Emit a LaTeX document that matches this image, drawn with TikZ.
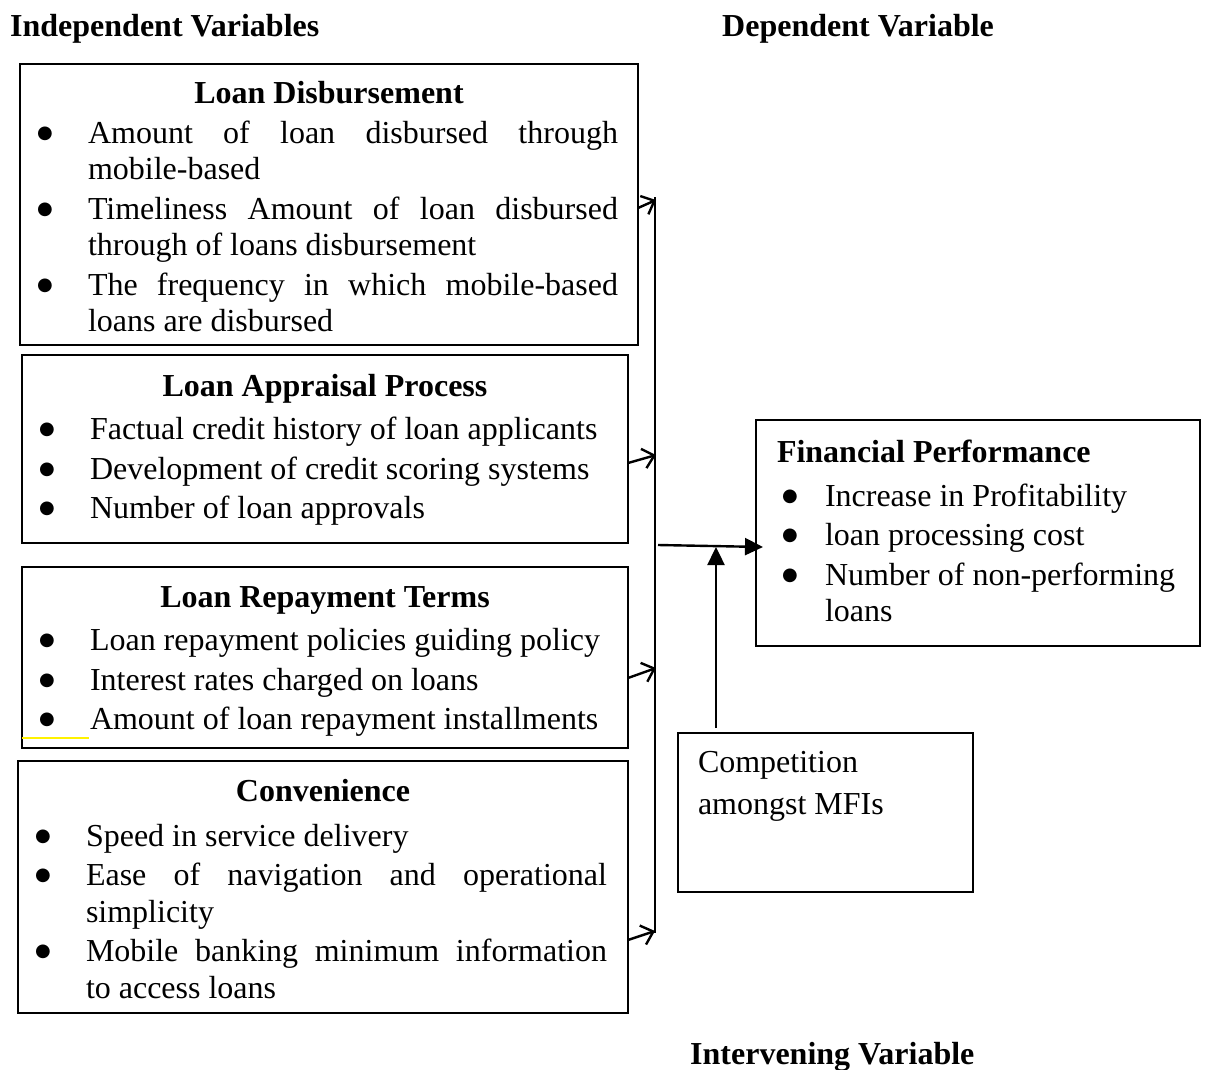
\documentclass[tikz,border=0pt]{standalone}
\usepackage{fontspec}
\setmainfont{Liberation Serif}
\newfontfamily\symfont{DejaVu Sans}
\usetikzlibrary{arrows.meta,calc}
\newcommand{\blt}{\raisebox{5pt}{\fontsize{18}{18}\symfont ●}}
% #1 bullet centre offset, #2 text indent, #3 text
\newcommand{\itm}[3]{\par\noindent\hangindent=#2\hangafter=1\makebox[#2][l]{\hspace{#1}\makebox[0pt][c]{\blt}}#3}
\newcommand{\boxsetup}{\fontsize{32}{36.5}\selectfont\setlength{\parskip}{3pt}\setlength{\parindent}{0pt}%
  \tolerance=10000\hbadness=10000\hyphenpenalty=10000\exhyphenpenalty=10000}
\tikzset{
  x=1pt, y=-1pt,
  frame/.style={draw=black, line width=1.2pt, rectangle, inner sep=0pt, outer sep=0pt, anchor=north west},
  content/.style={anchor=base west, inner sep=0pt, outer sep=0pt},
  heading/.style={anchor=base west, inner sep=0pt, font=\fontsize{32}{36}\selectfont\bfseries},
  openarr/.style={line width=2.4pt, -{Straight Barb[length=11pt,width=20pt,line width=2.4pt]}},
  solidarr/.style={line width=2.4pt, -{Triangle[length=18pt,width=17pt]}},
  conn/.style={line width=2.4pt}
}
\begin{document}
\begin{tikzpicture}
\useasboundingbox (0,0) rectangle (1205,1070);

% headings
\node[heading] (hind) at (10,37) {Independent Variables};
\node[heading] (hdep) at (722,37) {Dependent Variable};
\node[heading] (hint) at (690,1064) {Intervening Variable};

% frames
\node[frame, minimum width=618pt, minimum height=281pt] (b1) at (20,64) {};
\node[frame, minimum width=606pt, minimum height=188pt] (b2) at (22,355) {};
\node[frame, minimum width=606pt, minimum height=181pt] (b3) at (22,567) {};
\node[frame, minimum width=610pt, minimum height=252pt] (b4) at (18,761) {};
\node[frame, minimum width=444pt, minimum height=226pt] (fin) at (756,420) {};
\node[frame, minimum width=295pt, minimum height=159pt] (comp) at (678,733) {};

% contents
\node[content] (t1) at (20,104) {\begin{minipage}[t]{618pt}\boxsetup
{\centering\textbf{Loan Disbursement}\par}
\rightskip=20pt
\itm{25pt}{68pt}{Amount of loan disbursed through\linebreak mobile-based}
\itm{25pt}{68pt}{Timeliness Amount of loan disbursed\linebreak through of loans disbursement}
\itm{25pt}{68pt}{The frequency in which mobile-based\linebreak loans are disbursed}
\end{minipage}};

\node[content] (t2) at (22,396) {\begin{minipage}[t]{606pt}\boxsetup
{\centering\textbf{Loan Appraisal Process}\par}
\vspace{4pt}\rightskip=20pt plus 1fil
\itm{25pt}{68pt}{Factual credit history of loan applicants}
\itm{25pt}{68pt}{Development of credit scoring systems}
\itm{25pt}{68pt}{Number of loan approvals}
\end{minipage}};

\node[content] (t3) at (22,607) {\begin{minipage}[t]{606pt}\boxsetup
{\centering\textbf{Loan Repayment Terms}\par}
\vspace{4pt}\rightskip=0pt plus 1fil
\itm{25pt}{68pt}{Loan repayment policies guiding policy}
\itm{25pt}{68pt}{Interest rates charged on loans}
\itm{25pt}{68pt}{Amount of loan repayment installments}
\end{minipage}};

\node[content] (t4) at (18,801) {\begin{minipage}[t]{610pt}\boxsetup
{\centering\textbf{Convenience}\par}
\vspace{5.5pt}\rightskip=21pt
\itm{25pt}{68pt}{Speed in service delivery}
\itm{25pt}{68pt}{Ease of navigation and operational\linebreak simplicity}
\itm{25pt}{68pt}{Mobile banking minimum information\linebreak to access loans}
\end{minipage}};

\node[content] (t5) at (756,462) {\begin{minipage}[t]{444pt}\boxsetup
\hspace*{21pt}\textbf{Financial Performance}\par
\vspace{4.5pt}\rightskip=0pt plus 1fil
\itm{34pt}{69pt}{Increase in Profitability}
\itm{34pt}{69pt}{loan processing cost}
\itm{34pt}{69pt}{Number of non-performing\newline loans}
\end{minipage}};

\node[content, align=left, font=\fontsize{32}{42}\selectfont] (t6) at (698,814) {Competition\\amongst MFIs};

% junction coordinates on the collecting line
\coordinate (vtop) at (655,197);
\coordinate (vbot) at (655,933);
\coordinate (j1) at (656,200);
\coordinate (j2) at (656,455);
\coordinate (j3) at (656,668);
\coordinate (j4) at (655,931);
\coordinate (h0) at (658,545);
\coordinate (m) at (716,547);

\draw[conn] (vtop) -- (vbot);
\draw[openarr] (b1.east |- 0,208) -- (j1);
\draw[openarr] (b2.east |- 0,463) -- (j2);
\draw[openarr] (b3.east |- 0,678) -- (j3);
\draw[openarr] (b4.east |- 0,940) -- (j4);

\draw[solidarr] (h0) -- ($(fin.west)+(7,14)$);
\draw[solidarr] ($(comp.north -| m)+(0,-5)$) -- (m);

% yellow underline mark
\draw[yellow, line width=1.3pt] (22,738) -- (89,738);
\end{tikzpicture}
\end{document}
